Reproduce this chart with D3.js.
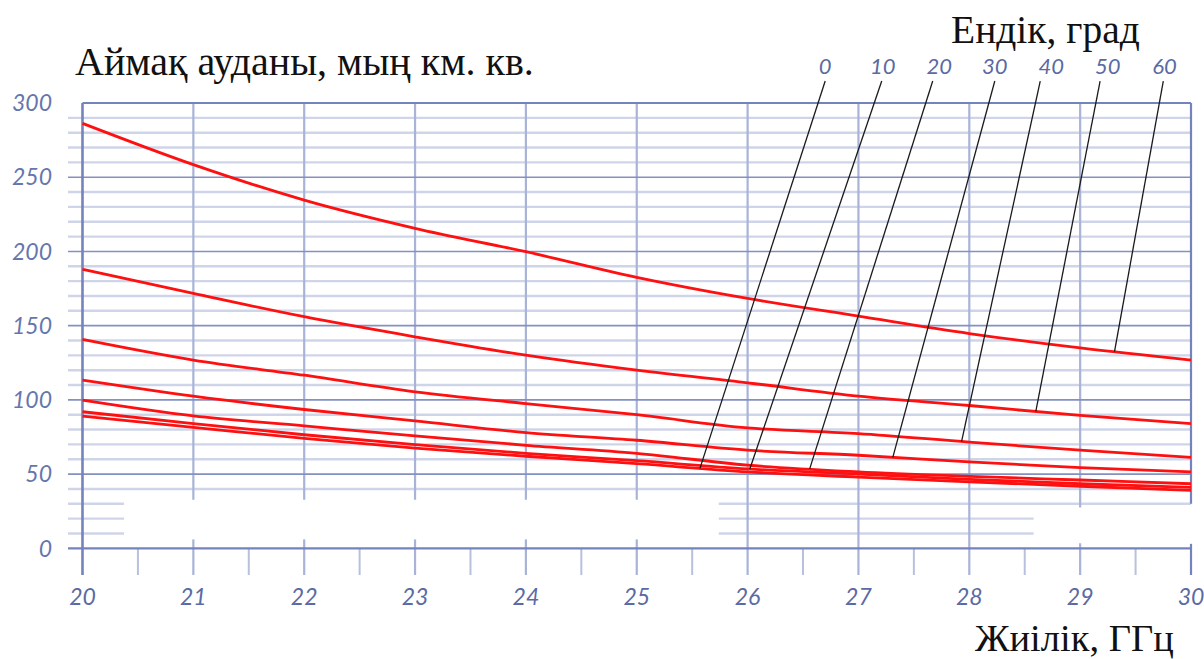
<!DOCTYPE html>
<html><head><meta charset="utf-8">
<script src="https://cdn.jsdelivr.net/npm/d3@7"></script>
<style>
html,body{margin:0;padding:0;background:#fff;}
svg{display:block;}
</style></head>
<body>
<svg id="chart" width="1204" height="659"></svg>
<script>
// ---- data ----
const freq = [20, 21, 22, 23, 24, 25, 26, 27, 28, 29, 30];
const lat0  = [89.0, 81.5, 74.0, 67.5, 62.0, 57.0, 51.5, 48.0, 44.8, 41.8, 39.0];
const lat10 = [92.0, 84.0, 76.5, 69.8, 64.0, 59.0, 53.5, 50.0, 46.5, 43.5, 41.0];
const lat20 = [99.8, 89.2, 82.5, 75.7, 69.4, 64.0, 56.0, 51.5, 48.5, 46.0, 43.5];
const lat30 = [113.3, 102.5, 93.5, 85.8, 78.0, 72.8, 66.1, 62.7, 58.2, 54.4, 51.5];
const lat40 = [140.7, 126.8, 116.6, 105.4, 97.5, 90.0, 81.1, 77.3, 71.5, 66.1, 61.2];
const lat50 = [188.0, 171.7, 156.0, 142.5, 130.1, 120.0, 111.5, 102.5, 96.2, 89.5, 84.0];
const lat60 = [286.3, 258.5, 234.6, 215.6, 199.8, 182.5, 168.3, 156.4, 144.7, 135.0, 126.8];
const latitudes = [0, 10, 20, 30, 40, 50, 60];
const latSeries = [lat0, lat10, lat20, lat30, lat40, lat50, lat60];
const latLabelX = [26.70, 27.22, 27.73, 28.23, 28.74, 29.25, 29.76];
const leaderTopX = [26.70, 27.21, 27.67, 28.23, 28.64, 29.18, 29.75];
const leaderEndX = [25.57, 26.02, 26.56, 27.31, 27.93, 28.60, 29.31];
const yTicks = [0, 50, 100, 150, 200, 250, 300];
const yMinor = d3.range(10, 300, 10).filter(v => v % 50 !== 0);
const xTicks = d3.range(20, 31, 1);
const xHalf = d3.range(20.5, 30, 1);
const titleText = "Аймақ ауданы, мың км. кв.";
const legendTitle = "Ендік, град";
const xTitle = "Жиілік, ГГц";

// ---- scales ----
const svg = d3.select("#chart");
const x = d3.scaleLinear().domain([20, 30]).range([82.5, 1191]);
const y = d3.scaleLinear().domain([0, 300]).range([548.3, 103]);

const gGrid = svg.append("g");
// minor horizontal lines
gGrid.selectAll("line.minor").data(yMinor).join("line")
  .attr("x1", 68).attr("x2", x(30))
  .attr("y1", d => y(d)).attr("y2", d => y(d))
  .attr("stroke", "#cfd5e9").attr("stroke-width", 2.4);
// vertical integer lines
gGrid.selectAll("line.v").data(xTicks.slice(1, -1)).join("line")
  .attr("x1", d => x(d)).attr("x2", d => x(d))
  .attr("y1", y(300)).attr("y2", y(-18))
  .attr("stroke", "#a9b3d7").attr("stroke-width", 2.2);
// half ticks
gGrid.selectAll("line.h").data(xHalf).join("line")
  .attr("x1", d => x(d)).attr("x2", d => x(d))
  .attr("y1", y(0)).attr("y2", y(-18))
  .attr("stroke", "#b8c0de").attr("stroke-width", 2);
// major horizontal lines
gGrid.selectAll("line.major").data(yTicks.filter(v => v > 0 && v < 300)).join("line")
  .attr("x1", 68).attr("x2", x(30))
  .attr("y1", d => y(d)).attr("y2", d => y(d))
  .attr("stroke", "#8391c2").attr("stroke-width", 1.6);

// masks (blank areas in the original)
const masks = [
  {x0: 20.375, x1: 25.74, y0: 32.7, y1: 6.0},
  {x0: 28.58, x1: 30.04, y0: 27.5, y1: 3.4}
];
gGrid.selectAll("rect.mask").data(masks).join("rect")
  .attr("x", d => x(d.x0)).attr("y", d => y(d.y0))
  .attr("width", d => x(d.x1) - x(d.x0)).attr("height", d => y(d.y1) - y(d.y0))
  .attr("fill", "#fff");

// borders
gGrid.append("line").attr("x1", 68).attr("x2", x(30)).attr("y1", y(0)).attr("y2", y(0))
  .attr("stroke", "#7483bc").attr("stroke-width", 2.2);
gGrid.append("line").attr("x1", x(20)).attr("x2", x(30)).attr("y1", y(300)).attr("y2", y(300))
  .attr("stroke", "#7483bc").attr("stroke-width", 2.2);
gGrid.append("line").attr("x1", x(20)).attr("x2", x(20)).attr("y1", y(300)).attr("y2", y(-18))
  .attr("stroke", "#7483bc").attr("stroke-width", 2.6);
gGrid.append("line").attr("x1", x(30)).attr("x2", x(30)).attr("y1", y(300)).attr("y2", y(30))
  .attr("stroke", "#7483bc").attr("stroke-width", 2.2);
gGrid.append("line").attr("x1", x(30)).attr("x2", x(30)).attr("y1", y(3)).attr("y2", y(-18))
  .attr("stroke", "#7483bc").attr("stroke-width", 2.2);

// axis labels
svg.append("g").selectAll("text").data(yTicks).join("text")
  .attr("x", 52).attr("y", d => y(d)).attr("dy", "0.36em")
  .attr("text-anchor", "end")
  .style("font", "italic 23px Lato, 'Open Sans', sans-serif")
  .attr("fill", "#6676ad").text(d => d);
svg.append("g").selectAll("text").data(xTicks).join("text")
  .attr("x", d => x(d)).attr("y", 605)
  .attr("text-anchor", "middle")
  .style("font", "italic 23px Lato, 'Open Sans', sans-serif")
  .attr("fill", "#5a6aa4").text(d => d);

// curves
const line = d3.line().x((d, i) => x(freq[i])).y(d => y(d)).curve(d3.curveMonotoneX);
svg.append("g").selectAll("path").data(latSeries).join("path")
  .attr("d", d => line(d)).attr("fill", "none")
  .attr("stroke", "#ff1010").attr("stroke-width", 2.8);

// leaders
const interp = (arr, xv) => {
  const i = Math.min(Math.floor(xv - 20), 9);
  const t = xv - freq[i];
  return arr[i] + (arr[i + 1] - arr[i]) * t;
};
svg.append("g").selectAll("line").data(latitudes).join("line")
  .attr("x1", (d, i) => x(leaderTopX[i])).attr("y1", y(314.8))
  .attr("x2", (d, i) => x(leaderEndX[i])).attr("y2", (d, i) => y(interp(latSeries[i], leaderEndX[i])))
  .attr("stroke", "#1a1a1a").attr("stroke-width", 1.3);
svg.append("g").selectAll("text").data(latitudes).join("text")
  .attr("x", (d, i) => x(latLabelX[i])).attr("y", y(319.5))
  .attr("text-anchor", "middle")
  .style("font", "italic 22px Lato, 'Open Sans', sans-serif")
  .attr("fill", "#5a6aa4").text(d => d);

// titles
const serif = "'Liberation Serif', 'DejaVu Serif', serif";
svg.append("text").attr("x", 75).attr("y", 75).style("font", "40px " + serif)
  .attr("fill", "#111").text(titleText);
svg.append("text").attr("x", 951).attr("y", 43).style("font", "39.5px " + serif)
  .attr("fill", "#111").text(legendTitle);
svg.append("text").attr("x", 975).attr("y", 651).style("font", "38.5px " + serif)
  .attr("fill", "#111").text(xTitle);
</script>
</body></html>
